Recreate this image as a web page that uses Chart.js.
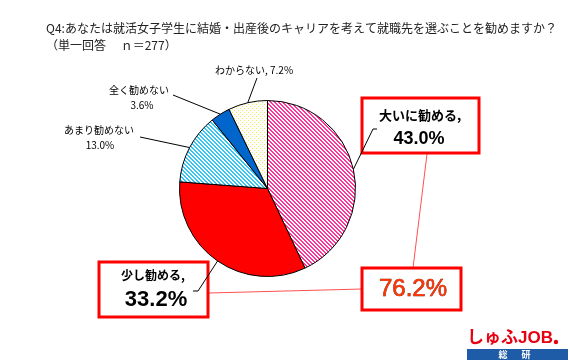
<!DOCTYPE html>
<html><head><meta charset="utf-8">
<script src="https://cdn.jsdelivr.net/npm/chart.js@4/dist/chart.umd.min.js"></script>
<style>html,body{margin:0;padding:0;background:#fff;}canvas{display:block;}</style>
</head><body>
<canvas id="c" width="570" height="360"></canvas>
<script>
const categories = ['大いに勧める', '少し勧める', 'あまり勧めない', '全く勧めない', 'わからない'];
const values = [43.0, 33.2, 13.0, 3.6, 7.2];
const valueLabels = ['43.0%', '33.2%', '13.0%', '3.6%', '7.2%'];
const totalLabel = '76.2%';
const titleLines = ['Q4:あなたは就活女子学生に結婚・出産後のキャリアを考えて就職先を選ぶことを勧めますか？', '（単一回答　 ｎ＝277）'];

const JP = '"Noto Sans CJK JP", sans-serif';
const AR = '"Liberation Sans", Arial, sans-serif';

function stripePattern(color, n, w) {
  const c = document.createElement('canvas'); c.width = n; c.height = n;
  const x = c.getContext('2d');
  x.fillStyle = '#fff'; x.fillRect(0, 0, n, n);
  x.fillStyle = color;
  for (let i = 0; i < n; i++) for (let j = 0; j < n; j++) {
    if (((i - j) % n + n) % n < w) x.fillRect(i, j, 1, 1);
  }
  return x.createPattern(c, 'repeat');
}
function dotPattern(color) {
  const c = document.createElement('canvas'); c.width = 4; c.height = 4;
  const x = c.getContext('2d');
  x.fillStyle = '#fff'; x.fillRect(0, 0, 4, 4);
  x.fillStyle = color; x.fillRect(0, 0, 1, 1); x.fillRect(2, 2, 1, 1);
  return x.createPattern(c, 'repeat');
}
const ctx0 = document.getElementById('c').getContext('2d');
const fills = [stripePattern('#ff3399', 4, 2), '#ff0000', stripePattern('#33c6f4', 4, 2), '#0066cc', dotPattern('#f0ec50')];

function box(ctx, x1, y1, x2, y2) {
  ctx.save();
  ctx.fillStyle = '#fff'; ctx.fillRect(x1, y1, x2 - x1, y2 - y1);
  ctx.strokeStyle = '#ff0000'; ctx.lineWidth = 3;
  ctx.strokeRect(x1, y1, x2 - x1, y2 - y1);
  ctx.restore();
}
function line(ctx, pts, color, w) {
  ctx.save(); ctx.strokeStyle = color; ctx.lineWidth = w || 1;
  ctx.beginPath(); ctx.moveTo(pts[0][0], pts[0][1]);
  for (let i = 1; i < pts.length; i++) ctx.lineTo(pts[i][0], pts[i][1]);
  ctx.stroke(); ctx.restore();
}
function text(ctx, s, x, y, font, color, align) {
  ctx.save(); ctx.font = font; ctx.fillStyle = color || '#000';
  ctx.textAlign = align || 'center'; ctx.textBaseline = 'middle';
  ctx.fillText(s, x, y); ctx.restore();
}

const overlay = {
  id: 'overlay',
  afterDraw(chart) {
    const ctx = chart.ctx;
    const arcs = chart.getDatasetMeta(0).data;
    const anchor = i => {
      const a = arcs[i];
      const m = (a.startAngle + a.endAngle) / 2;
      return [a.x + Math.cos(m) * a.outerRadius, a.y + Math.sin(m) * a.outerRadius];
    };
    // title
    text(ctx, titleLines[0], 46, 28, '12px ' + JP, '#222', 'left');
    text(ctx, titleLines[1], 46, 45, '12px ' + JP, '#222', 'left');

    // red connector lines
    line(ctx, [[427, 154], [413, 268]], '#ff5050', 1);
    line(ctx, [[209, 293], [362, 289]], '#ff5050', 1);

    // boxes
    box(ctx, 362, 98, 479, 153);
    box(ctx, 99, 262, 208, 317);
    box(ctx, 362, 268, 461, 310);

    // leader lines
    line(ctx, [anchor(0), [373, 129], [377, 129]], '#000', 1);
    line(ctx, [anchor(1), [198, 291], [193, 291]], '#000', 1);
    line(ctx, [[140, 137], anchor(2)], '#000', 1);
    line(ctx, [[173, 95], anchor(3)], '#000', 1);
    line(ctx, [[257, 78], anchor(4)], '#000', 1);

    // box labels
    text(ctx, categories[0] + ',', 420, 115, 'bold 13px ' + JP, '#000');
    text(ctx, valueLabels[0], 419, 139, 'bold 18px ' + AR, '#000');
    text(ctx, categories[1] + ',', 153, 275, 'bold 12px ' + JP, '#000');
    text(ctx, valueLabels[1], 156, 300, 'bold 22px ' + AR, '#000');
    ctx.save();
    ctx.font = '24px ' + AR; ctx.textAlign = 'center'; ctx.textBaseline = 'middle';
    ctx.lineWidth = 0.6; ctx.strokeStyle = '#6a1000'; ctx.strokeText(totalLabel, 413, 289);
    ctx.fillStyle = '#ff3300'; ctx.fillText(totalLabel, 413, 289);
    ctx.restore();

    // small labels
    text(ctx, categories[4] + ', ' + valueLabels[4], 215, 70, '10px ' + JP, '#000', 'left');
    text(ctx, categories[3], 139, 90, '10px ' + JP, '#000');
    text(ctx, valueLabels[3], 142, 105, '10px ' + JP, '#000');
    text(ctx, categories[2], 99, 130, '10px ' + JP, '#000');
    text(ctx, valueLabels[2], 100, 145, '10px ' + JP, '#000');

    // logo
    ctx.save();
    ctx.font = 'bold 17px ' + JP; ctx.fillStyle = '#e60012'; ctx.textBaseline = 'middle'; ctx.textAlign = 'left';
    const w1 = ctx.measureText('しゅふ').width;
    ctx.fillText('しゅふ', 467, 337);
    ctx.font = 'bold 17px ' + AR;
    ctx.fillText('JOB', 467 + w1, 338);
    const w2 = ctx.measureText('JOB').width;
    ctx.beginPath(); ctx.arc(467 + w1 + w2 + 3, 342, 2.2, 0, Math.PI * 2); ctx.fill();
    ctx.fillStyle = '#1f5ca8'; ctx.fillRect(467, 349, 101, 11);
    ctx.restore();
    text(ctx, '総', 503, 354.5, 'bold 9px ' + JP, '#fff');
    text(ctx, '研', 526, 354.5, 'bold 9px ' + JP, '#fff');
  }
};

new Chart(ctx0, {
  type: 'pie',
  data: {
    labels: categories,
    datasets: [{ data: values, backgroundColor: fills, borderColor: '#000', borderWidth: 1 }]
  },
  options: {
    responsive: false,
    animation: false,
    layout: { padding: { left: 179, right: 214, top: 100, bottom: 83 } },
    plugins: { legend: { display: false }, tooltip: { enabled: false }, title: { display: false } }
  },
  plugins: [overlay]
});
</script>
</body></html>
